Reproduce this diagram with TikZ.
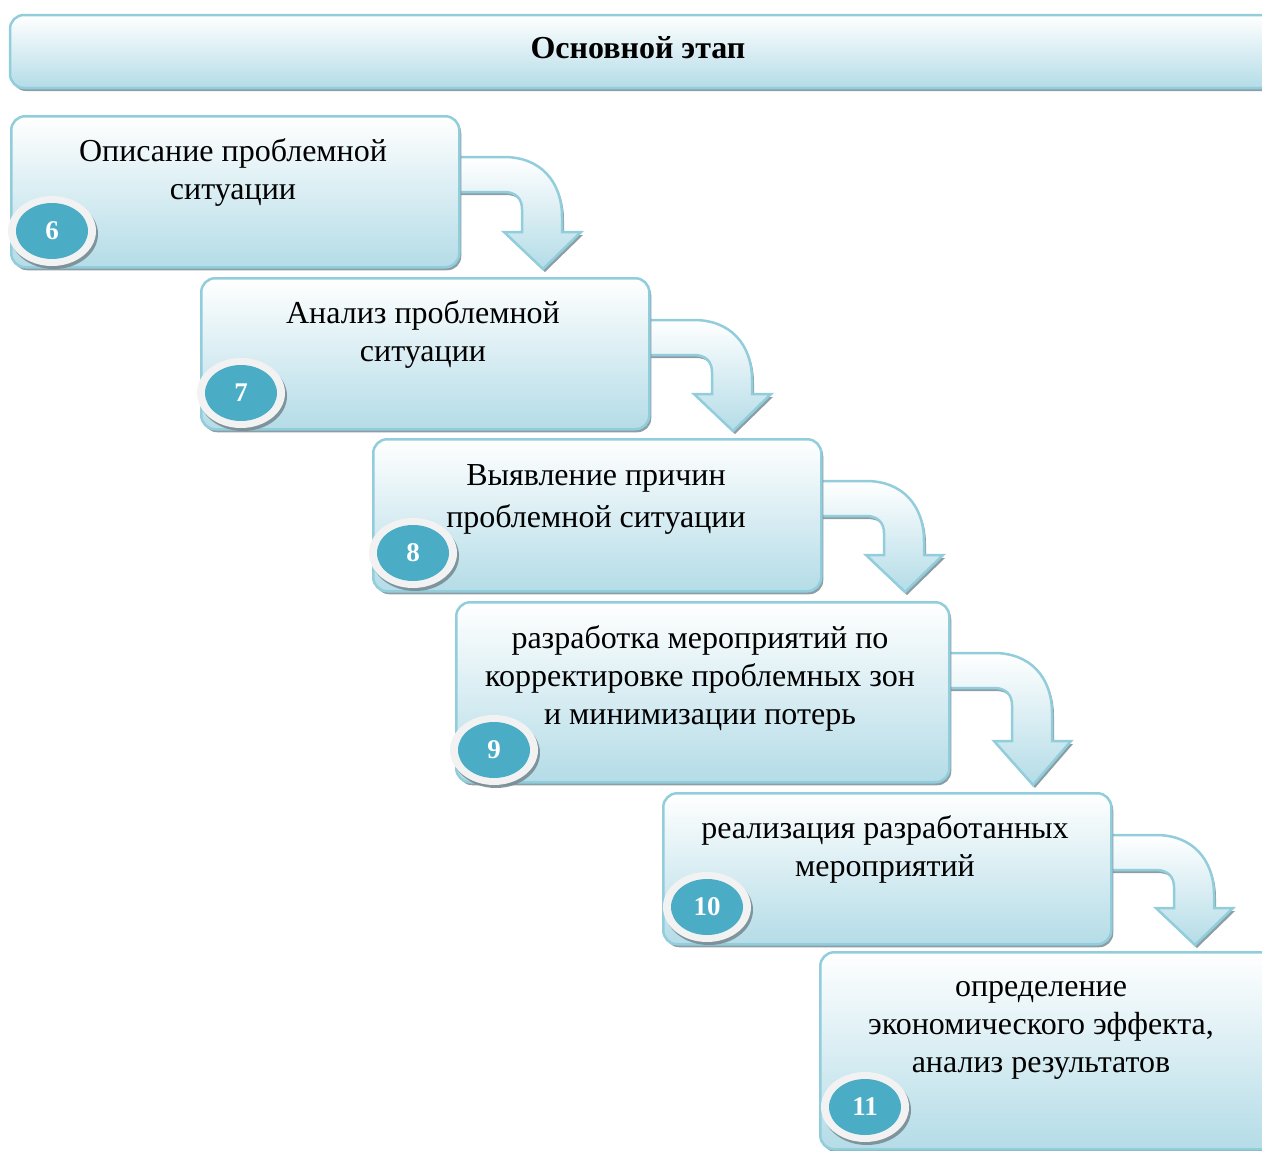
\documentclass[tikz,border=0pt]{standalone}
\usepackage{fontspec}
\setmainfont{Liberation Serif}
\usetikzlibrary{shadows,shapes.geometric}
\definecolor{bordc}{RGB}{146,205,220}
\definecolor{boxb}{RGB}{180,220,231}
\definecolor{numc}{RGB}{75,172,198}
\definecolor{ringc}{RGB}{242,242,242}
\definecolor{shc}{RGB}{120,140,148}
\tikzset{
  myshadow/.style={drop shadow={shadow xshift=2pt,shadow yshift=-3pt,fill=shc,opacity=0.85}},
  stepbox/.style={draw=bordc,line width=2.5pt,rounded corners=14pt,top color=white,bottom color=boxb,myshadow},
  steptext/.style={align=center,font=\fontsize{32}{38}\selectfont,inner sep=0pt},
  ringnode/.style={ellipse,fill=ringc,minimum width=88pt,minimum height=70pt,inner sep=0pt,drop shadow={shadow xshift=2pt,shadow yshift=-3pt,fill=shc,opacity=0.9}},
  numnode/.style={ellipse,fill=numc,minimum width=72pt,minimum height=56pt,inner sep=0pt,text=white,font=\fontsize{27}{27}\selectfont\bfseries},
  bentarr/.style={draw=bordc,line width=2.5pt,top color=white,bottom color=boxb,line join=miter,myshadow}
}
\newcommand\bentarrow[4]{%
  \path[bentarr] (#1-3,#2) -- (#1+46,#2) .. controls (#1+82,#2) and (#1+104,#2+24) .. (#1+104,#2+60)
   -- (#1+104,#3) -- (#1+123,#3) -- (#1+85,#4) -- (#1+46,#3) -- (#1+64,#3) -- (#1+64,#2+52)
   .. controls (#1+64,#2+42) and (#1+58,#2+35) .. (#1+46,#2+35) -- (#1-3,#2+35) -- cycle;}
\begin{document}
\begin{tikzpicture}[x=1pt,y=-1pt]
\useasboundingbox (0,0) rectangle (1262,1151);
% header
\path[stepbox] (10,15) rectangle (1275,88);
\node[font=\fontsize{32}{38}\selectfont\bfseries,inner sep=0pt] (hdr) at (638,48) {Основной этап};
% arrows
\bentarrow{458}{157}{232}{269}
\bentarrow{648}{320}{394}{431}
\bentarrow{820}{481}{555}{592}
\bentarrow{948}{653}{741}{785}
\bentarrow{1110}{835}{908}{945}
% boxes
\node[stepbox,minimum width=448pt,minimum height=151pt,anchor=north west] (b1) at (10,115) {};
\node[stepbox,minimum width=448pt,minimum height=151pt,anchor=north west] (b2) at (200,277) {};
\node[stepbox,minimum width=448pt,minimum height=152pt,anchor=north west] (b3) at (372,438) {};
\node[stepbox,minimum width=493pt,minimum height=180pt,anchor=north west] (b4) at (455,601) {};
\node[stepbox,minimum width=448pt,minimum height=151pt,anchor=north west] (b5) at (662,792) {};
\node[stepbox,minimum width=455pt,minimum height=197pt,anchor=north west] (b6) at (819,951) {};
% texts
\node[steptext] (t1) at (233,172) {Описание проблемной\\ситуации};
\node[steptext] (t2) at (423,334) {Анализ проблемной\\ситуации};
\node[steptext,font=\fontsize{32}{42}\selectfont] (t3) at (596,499) {Выявление причин\\проблемной ситуации};
\node[steptext] (t4) at (700,678) {разработка мероприятий по\\корректировке проблемных зон\\и минимизации потерь};
\node[steptext] (t5) at (885,849) {реализация разработанных\\мероприятий};
\node[steptext] (t6) at (1041,1030) {определение\\экономического эффекта,\\анализ результатов};
% numbers
\foreach \n/\x/\y in {6/52/231,7/241/393,8/413/553,9/494/750,10/707/907,11/865/1107}{
  \node[ringnode] (r\n) at (\x,\y) {};
  \node[numnode] (c\n) at (\x,\y) {\n};
}
\end{tikzpicture}
\end{document}
